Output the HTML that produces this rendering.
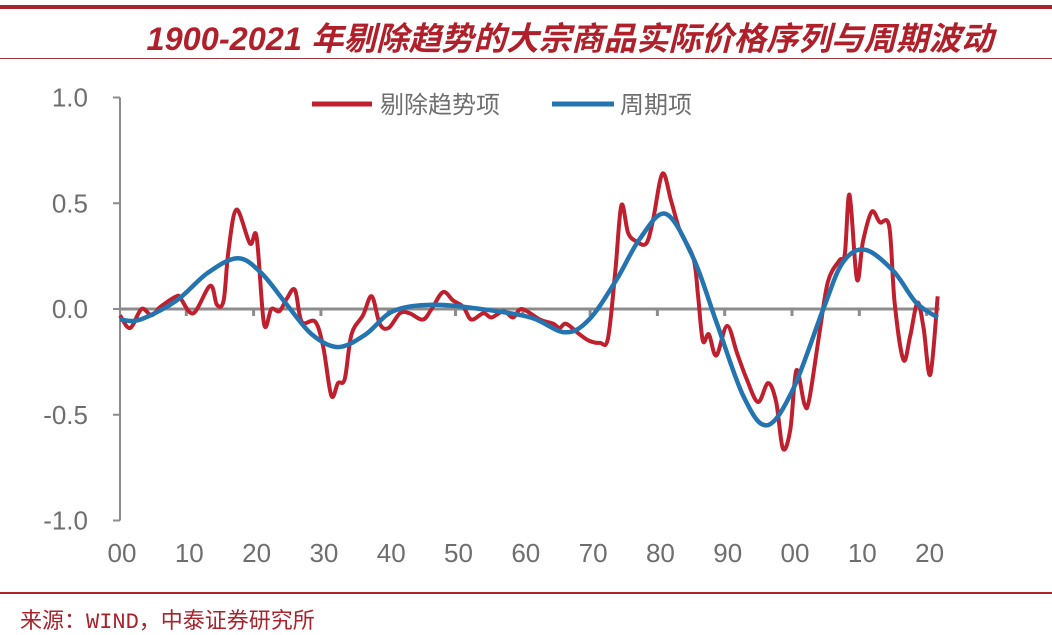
<!DOCTYPE html>
<html><head><meta charset="utf-8">
<style>
html,body{margin:0;padding:0;background:#fff;}
body{width:1052px;height:635px;overflow:hidden;position:relative;font-family:"Liberation Sans","Noto Sans CJK SC",sans-serif;}
</style></head>
<body>
<div style="position:absolute;left:0;top:5px;width:1052px;height:4px;background:#a8232b;"></div>
<div style="position:absolute;left:0;top:13px;width:1140px;text-align:center;font-size:32.5px;font-weight:bold;font-style:italic;color:#b0202a;font-family:'Liberation Sans','Noto Sans CJK SC',sans-serif;">1900-2021 年剔除趋势的大宗商品实际价格序列与周期波动</div>
<div style="position:absolute;left:0;top:58px;width:1052px;height:1px;background:#9b3a40;"></div>
<svg width="1052" height="635" style="position:absolute;left:0;top:0" id="svg"></svg>
<div style="position:absolute;left:0;top:592px;width:1052px;height:2px;background:#b0202a;"></div>
<div style="position:absolute;left:20px;top:603px;font-size:22px;color:#a8232b;font-family:'Liberation Mono','Noto Sans CJK SC',monospace;">来源：WIND，中泰证券研究所</div>
<script>
const redYears=[1900,1901.5,1903.2,1904.7,1906,1908.4,1909,1910.9,1913.4,1914.4,1915.4,1916.1,1917.3,1919.3,1920.3,1921.4,1922.5,1923.7,1924.8,1926,1927,1929,1930.2,1931.4,1932.4,1933.4,1934.4,1936.1,1937.4,1938.6,1939.9,1941.6,1943,1945,1946.3,1948,1949.5,1951,1952.2,1954,1955.2,1957,1958.4,1959.7,1962.4,1964.4,1965.3,1966.3,1968.3,1969.7,1971.3,1972.5,1973.6,1974.5,1975.5,1976.7,1978.2,1979.2,1980.6,1981.9,1983.2,1985.2,1985.9,1986.6,1987.5,1988.6,1990.2,1991.7,1993.1,1994.8,1996.3,1997.5,1998.5,1999.6,2000.5,2001.7,2002.4,2003.9,2005.2,2006.9,2007.7,2008.4,2009.5,2010.4,2011.7,2012.9,2014.3,2015.1,2016.4,2017.4,2018.5,2019.4,2020.4,2021.5];
const redValues=[-0.03,-0.09,0.0,-0.03,0.01,0.06,0.05,-0.02,0.11,0.02,0.04,0.27,0.47,0.31,0.34,-0.07,0.0,-0.01,0.05,0.09,-0.06,-0.06,-0.18,-0.41,-0.35,-0.33,-0.12,-0.03,0.06,-0.07,-0.09,-0.02,-0.02,-0.05,0.0,0.08,0.04,0.01,-0.05,-0.02,-0.04,-0.01,-0.04,0.0,-0.05,-0.07,-0.09,-0.07,-0.12,-0.15,-0.16,-0.14,0.18,0.49,0.36,0.32,0.31,0.42,0.64,0.51,0.37,0.24,0.06,-0.15,-0.12,-0.22,-0.08,-0.21,-0.33,-0.44,-0.35,-0.44,-0.66,-0.57,-0.29,-0.45,-0.43,-0.12,0.13,0.23,0.26,0.54,0.14,0.32,0.46,0.41,0.39,0.03,-0.24,-0.13,0.03,-0.09,-0.31,0.06];
const blueYears=[1900,1903,1908.4,1913,1917.5,1921,1924.8,1928.5,1932.4,1936.5,1940.6,1946.5,1953.6,1961,1966.1,1969.7,1973.8,1977.2,1981.1,1985.2,1988.6,1992.6,1996.1,2000,2004.5,2007.4,2010.7,2014.9,2018.3,2021.5];
const blueValues=[-0.05,-0.05,0.04,0.17,0.24,0.17,0.02,-0.12,-0.18,-0.12,-0.01,0.02,0.0,-0.04,-0.11,-0.05,0.14,0.33,0.45,0.24,-0.06,-0.41,-0.55,-0.38,0.0,0.22,0.28,0.18,0.03,-0.04];
const yTicks=[1.0,0.5,0.0,-0.5,-1.0];
const yTickLabels=["1.0","0.5","0.0","-0.5","-1.0"];
const xTicks=[1900,1910,1920,1930,1940,1950,1960,1970,1980,1990,2000,2010,2020];
const xTickLabels=["00","10","20","30","40","50","60","70","80","90","00","10","20"];

const NS="http://www.w3.org/2000/svg";
const svg=document.getElementById('svg');
const X=y=>120+(y-1900)*6.73;
const Y=v=>309-v*211.5;
function el(t,a){const e=document.createElementNS(NS,t);for(const k in a)e.setAttribute(k,a[k]);svg.appendChild(e);return e;}
const ya=el('line',{x1:120,y1:Y(1),x2:120,y2:Y(-1),stroke:'#8c8c8c','stroke-width':2});


yTicks.forEach((v,i)=>{
  const t=el('line',{x1:113,y1:Y(v),x2:120,y2:Y(v),stroke:'#8c8c8c','stroke-width':2});
  
  
  const l=el('text',{x:88,y:Y(v)+9,'text-anchor':'end','font-size':26,fill:'#6e6e6e','font-family':'Liberation Sans, sans-serif'});
  l.textContent=yTickLabels[i];
  
  
});
const xa=el('line',{x1:120,y1:Y(0),x2:X(2021.8),y2:Y(0),stroke:'#8c8c8c','stroke-width':3});


xTicks.forEach((yr,i)=>{
  if(i>0){const t=el('line',{x1:X(yr)-1,y1:Y(0),x2:X(yr)-1,y2:Y(0)+7,stroke:'#8c8c8c','stroke-width':3});
  
  }
  const l=el('text',{x:X(yr)+2,y:562,'text-anchor':'middle','font-size':26,fill:'#6e6e6e','font-family':'Liberation Sans, sans-serif'});
  l.textContent=xTickLabels[i];
  
  
});
function path(xs,vs){
  const p=xs.map((x,i)=>[X(x),Y(vs[i])]);
  let d='M'+p[0][0]+','+p[0][1];
  for(let i=0;i<p.length-1;i++){
    const p0=p[i-1]||p[i],p1=p[i],p2=p[i+1],p3=p[i+2]||p2;
    const c1=[p1[0]+(p2[0]-p0[0])/6,p1[1]+(p2[1]-p0[1])/6];
    const c2=[p2[0]-(p3[0]-p1[0])/6,p2[1]-(p3[1]-p1[1])/6];
    d+=` C${c1[0]},${c1[1]} ${c2[0]},${c2[1]} ${p2[0]},${p2[1]}`;
  }
  return d;
}
const r=el('path',{d:path(redYears,redValues),fill:'none',stroke:'#c0202e','stroke-width':4,'stroke-linejoin':'round'});


const b=el('path',{d:path(blueYears,blueValues),fill:'none',stroke:'#2474b0','stroke-width':4.5,'stroke-linejoin':'round'});


const l1=el('line',{x1:312,y1:104,x2:372,y2:104,stroke:'#c0202e','stroke-width':5});


const t1=el('text',{x:380,y:113,'font-size':24,fill:'#6e6e6e','font-family':'Noto Sans CJK SC, sans-serif'});
t1.textContent='剔除趋势项';


const l2=el('line',{x1:552,y1:104,x2:614,y2:104,stroke:'#2474b0','stroke-width':5});


const t2=el('text',{x:620,y:113,'font-size':24,fill:'#6e6e6e','font-family':'Noto Sans CJK SC, sans-serif'});
t2.textContent='周期项';


</script>
</body></html>
